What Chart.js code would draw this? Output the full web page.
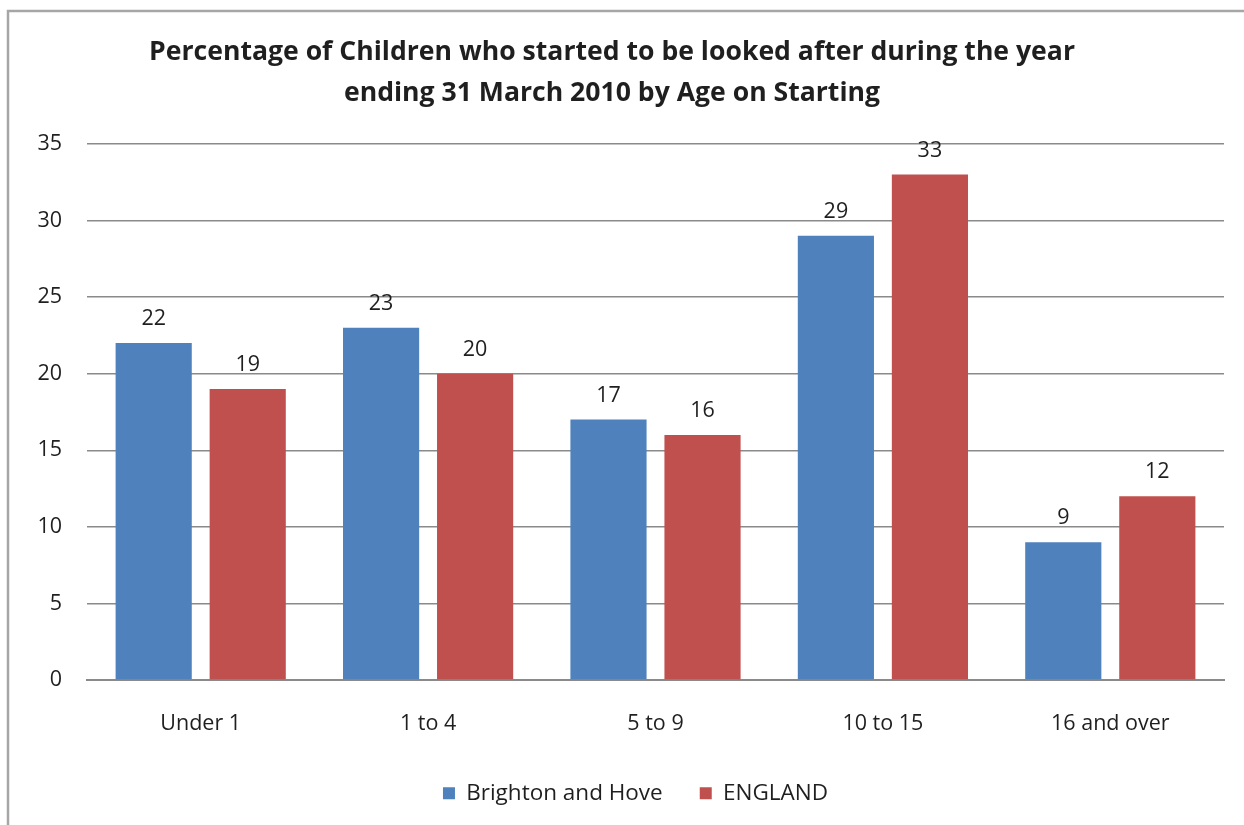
<!DOCTYPE html>
<html lang="en">
<head>
  <meta charset="UTF-8">
  <title>Children starting to be looked after by age, 2009/10</title>
  <script src="https://cdn.jsdelivr.net/npm/chart.js"></script>
  <style>
    html, body { margin: 0; padding: 0; background: #fff; }
    #wrap { width: 1244px; height: 825px; }
  </style>
</head>
<body>
  <div id="wrap"><canvas id="ageChart"></canvas></div>
  <script>
    const ageGroups = ['Under 1', '1 to 4', '5 to 9', '10 to 15', '16 and over'];
    const brightonValues = [22, 23, 17, 29, 9];
    const englandValues = [19, 20, 16, 33, 12];
    const titleLines = [
      'Percentage of Children who started to be looked after during the year',
      'ending 31 March 2010 by Age on Starting'
    ];

    const FONT = "'Open Sans', 'Noto Sans', sans-serif";
    const LABEL_SIZE = 21.5;
    const TEXT = '#1f1f1f';
    const GRID = '#8a8a8a';

    // frame down the left side and across the top
    const framePlugin = {
      id: 'frame',
      beforeDraw(chart) {
        const c = chart.ctx;
        c.save();
        c.strokeStyle = '#a6a6a6';
        c.lineWidth = 2.5;
        c.beginPath();
        c.moveTo(8, chart.height);
        c.lineTo(8, 11);
        c.lineTo(chart.width, 11);
        c.stroke();
        c.restore();
      }
    };

    // centre the legend under the plot area rather than the whole canvas
    const legendShift = {
      id: 'legendShift',
      afterLayout(chart) {
        const lg = chart.legend;
        if (!lg) return;
        const dx = (chart.chartArea.left + chart.chartArea.right) / 2 - (lg.left + lg.right) / 2 - 20;
        lg.left += dx;
        lg.right += dx;
      }
    };

    // value printed above each bar
    const valueLabels = {
      id: 'valueLabels',
      afterDatasetsDraw(chart) {
        const c = chart.ctx;
        c.save();
        c.font = LABEL_SIZE + 'px ' + FONT;
        c.fillStyle = TEXT;
        c.textAlign = 'center';
        c.textBaseline = 'middle';
        chart.data.datasets.forEach((ds, i) => {
          chart.getDatasetMeta(i).data.forEach((bar, j) => {
            c.fillText(ds.data[j], bar.x, bar.y - 24);
          });
        });
        c.restore();
      }
    };

    new Chart(document.getElementById('ageChart'), {
      type: 'bar',
      data: {
        labels: ageGroups,
        datasets: [
          { label: 'Brighton and Hove', data: brightonValues, backgroundColor: '#4f81bd' },
          { label: 'ENGLAND', data: englandValues, backgroundColor: '#c0504d' }
        ]
      },
      options: {
        responsive: true,
        maintainAspectRatio: false,
        animation: false,
        categoryPercentage: 0.827,
        barPercentage: 0.81,
        layout: { padding: { left: 0, right: 20, top: 0, bottom: 14 } },
        plugins: {
          title: {
            display: true,
            text: titleLines,
            color: TEXT,
            font: { family: FONT, size: 26.6, weight: 'bold', lineHeight: 1.54 },
            padding: { top: 32, bottom: 30 }
          },
          legend: {
            position: 'bottom',
            maxHeight: 66,
            labels: {
              color: TEXT,
              font: { family: FONT, size: 22.5 },
              boxWidth: 12,
              boxHeight: 12,
              padding: 37
            }
          },
          tooltip: { enabled: false }
        },
        scales: {
          x: {
            grid: { display: false, drawTicks: false },
            border: { color: GRID, width: 2 },
            ticks: { color: TEXT, font: { family: FONT, size: LABEL_SIZE }, padding: 31 },
            afterFit(scale) { scale.height = 65; }
          },
          y: {
            min: 0,
            max: 35,
            ticks: { stepSize: 5, color: TEXT, font: { family: FONT, size: LABEL_SIZE }, padding: 25 },
            grid: { color: GRID, lineWidth: 1.5, drawTicks: false },
            border: { display: false },
            afterFit(scale) { scale.width = 87; }
          }
        }
      },
      plugins: [framePlugin, legendShift, valueLabels]
    });
  </script>
</body>
</html>
